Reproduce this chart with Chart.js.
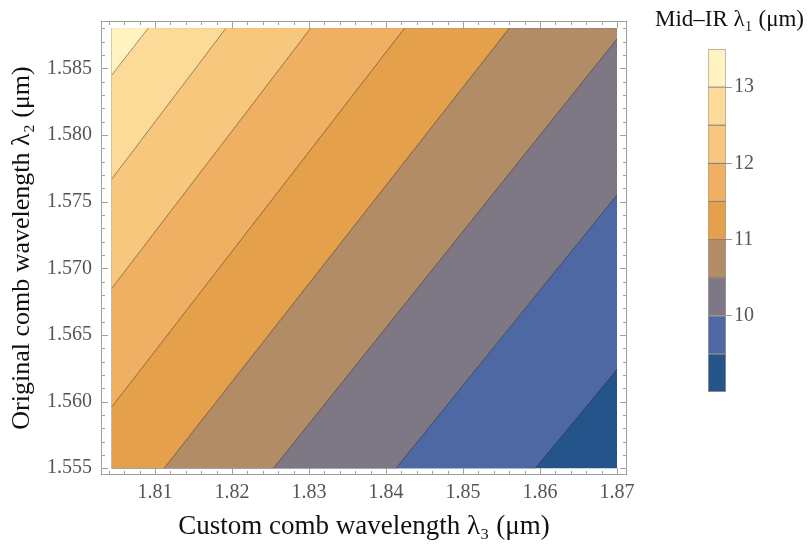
<!DOCTYPE html>
<html><head><meta charset="utf-8">
<script src="https://cdn.jsdelivr.net/npm/chart.js@4/dist/chart.umd.min.js"></script>
<style>
html,body{margin:0;padding:0;background:#fff;}
#wrap{position:relative;width:809px;height:549px;overflow:hidden;}
#main{position:absolute;left:0;top:0;}
#bar{position:absolute;left:650px;top:0;}
</style></head><body>
<div id="wrap">
<canvas id="main" width="650" height="549"></canvas>
<canvas id="bar" width="159" height="549"></canvas>
</div>
<script>
// ---- data ----
// contour levels of the mid-IR wavelength λ1 (μm)
const levels = [9.5, 10, 10.5, 11, 11.5, 12, 12.5, 13];
// each contour line: start point (λ3, λ2) and end point (λ3, λ2)
const lineStartL3 = [1.8594, 1.8413, 1.8254, 1.8112, 1.8044, 1.8044, 1.8044, 1.8044];
const lineStartL2 = [1.555, 1.555, 1.555, 1.555, 1.5596, 1.5685, 1.5767, 1.5845];
const lineEndL3 = [1.87, 1.87, 1.87, 1.8560, 1.8424, 1.8302, 1.8192, 1.8091];
const lineEndL2 = [1.5624, 1.5755, 1.5872, 1.588, 1.588, 1.588, 1.588, 1.588];
// plotted data domain
const domainL3 = [1.8044, 1.87];
const domainL2 = [1.555, 1.588];
// colour-bar band edges
const bandEdges = [9, 9.5, 10, 10.5, 11, 11.5, 12, 12.5, 13, 13.5];
// tick labels
const xTicks = [1.81, 1.82, 1.83, 1.84, 1.85, 1.86, 1.87];
const yTicks = [1.555, 1.56, 1.565, 1.57, 1.575, 1.58, 1.585];
const colorbarTicks = [10, 11, 12, 13];

// ---- styles ----
const bandColors = ['#245489','#4D68A2','#7E7885','#B28C67','#E4A04A','#EFB064','#F6C77C','#FCDA97','#FFF3C2'];
const X_AXIS = [1.80299, 1.8713];
const Y_AXIS = [1.55449, 1.58855];
const SERIF = "'Liberation Serif', 'Times New Roman', serif";

function regionAbove(i){
  const s = {x: lineStartL3[i], y: lineStartL2[i]};
  const e = {x: lineEndL3[i], y: lineEndL2[i]};
  const [x0, x1] = domainL3, [y0, y1] = domainL2;
  const pts = [s, e];
  if (e.x >= x1 && e.y < y1) pts.push({x: x1, y: y1});
  pts.push({x: x0, y: y1});
  if (s.y <= y0 && s.x > x0) pts.push({x: x0, y: y0});
  pts.push(s);
  return pts;
}

const datasets = [];
// base band (lowest level) covers the whole domain
datasets.push({
  data: [{x: domainL3[0], y: domainL2[0]}, {x: domainL3[1], y: domainL2[0]}, {x: domainL3[1], y: domainL2[1]}, {x: domainL3[0], y: domainL2[1]}, {x: domainL3[0], y: domainL2[0]}],
  showLine: true, fill: 'shape', backgroundColor: bandColors[0], borderWidth: 0, pointRadius: 0, order: 1000
});
levels.forEach((lv, i) => {
  datasets.push({
    data: regionAbove(i), showLine: true, fill: 'shape', backgroundColor: bandColors[i + 1],
    borderWidth: 0, pointRadius: 0, order: 500 - i
  });
});
levels.forEach((lv, i) => {
  datasets.push({
    data: [{x: lineStartL3[i], y: lineStartL2[i]}, {x: lineEndL3[i], y: lineEndL2[i]}],
    showLine: true, fill: false, borderColor: 'rgba(45,35,25,0.45)', borderWidth: 1, pointRadius: 0, order: 0
  });
});

const frameTicks = {
  id: 'frameTicks',
  afterDraw(chart){
    const {ctx, chartArea: a, scales: {x, y}} = chart;
    ctx.save();
    ctx.strokeStyle = '#a0a0a0';
    ctx.lineWidth = 1;
    ctx.strokeRect(a.left + 0.5, a.top + 0.5, a.right - a.left - 1, a.bottom - a.top - 1);
    ctx.beginPath();
    for (let k = Math.ceil(X_AXIS[0] * 500); k <= Math.floor(X_AXIS[1] * 500); k++) {
      const px = Math.round(x.getPixelForValue(k / 500)) + 0.5;
      const len = (k % 5 === 0) ? 7 : 4;
      ctx.moveTo(px, a.bottom); ctx.lineTo(px, a.bottom - len);
      ctx.moveTo(px, a.top); ctx.lineTo(px, a.top + len);
    }
    for (let k = Math.ceil(Y_AXIS[0] * 1000); k <= Math.floor(Y_AXIS[1] * 1000); k++) {
      const py = Math.round(y.getPixelForValue(k / 1000)) + 0.5;
      const len = (k % 5 === 0) ? 7 : 4;
      ctx.moveTo(a.left, py); ctx.lineTo(a.left + len, py);
      ctx.moveTo(a.right, py); ctx.lineTo(a.right - len, py);
    }
    ctx.stroke();
    ctx.restore();
  }
};

new Chart(document.getElementById('main'), {
  type: 'scatter',
  data: {datasets},
  options: {
    responsive: false, animation: false,
    layout: {padding: {top: 5, right: 23, bottom: 0, left: 0}},
    plugins: {legend: {display: false}, tooltip: {enabled: false}},
    scales: {
      x: {
        type: 'linear', min: X_AXIS[0], max: X_AXIS[1],
        afterBuildTicks: s => { s.ticks = xTicks.map(v => ({value: v})); },
        afterFit: s => { s.height = 74; },
        grid: {display: false, drawTicks: false}, border: {display: false},
        ticks: {font: {family: SERIF, size: 20}, color: '#555', padding: 6, maxRotation: 0, autoSkip: false, callback: v => Number(v).toFixed(2)},
        title: {display: true, text: 'Custom comb wavelength λ₃ (μm)', font: {family: SERIF, size: 27}, color: '#111', padding: {top: 0, bottom: 6}}
      },
      y: {
        type: 'linear', min: Y_AXIS[0], max: Y_AXIS[1],
        afterBuildTicks: s => { s.ticks = yTicks.map(v => ({value: v})); },
        afterFit: s => { s.width = 101; },
        grid: {display: false, drawTicks: false}, border: {display: false},
        ticks: {font: {family: SERIF, size: 20}, color: '#555', padding: 9, autoSkip: false, callback: v => Number(v).toFixed(3)},
        title: {display: true, text: 'Original comb wavelength λ₂ (μm)', font: {family: SERIF, size: 26}, color: '#111', padding: {top: 7, bottom: 0}}
      }
    }
  },
  plugins: [frameTicks]
});

new Chart(document.getElementById('bar'), {
  type: 'bar',
  data: {
    labels: ['λ₁'],
    datasets: bandColors.map((c, i) => ({
      data: [[bandEdges[i], bandEdges[i + 1]]], backgroundColor: c,
      borderColor: 'rgba(60,45,30,0.45)', borderWidth: 1, borderSkipped: false,
      grouped: false, barPercentage: 1, categoryPercentage: 1,
      xAxisID: 'x', yAxisID: 'y'
    }))
  },
  options: {
    responsive: false, animation: false,
    layout: {padding: {left: 0, right: 0, top: 0, bottom: 157}},
    plugins: {
      legend: {display: false}, tooltip: {enabled: false},
      title: {display: true, text: 'Mid–IR λ₁ (μm)', font: {family: SERIF, size: 23, weight: 'normal'}, color: '#111', padding: {top: 6, bottom: 15.4}}
    },
    scales: {
      x: {display: false},
      y: {
        position: 'right', min: 9, max: 13.5,
        afterBuildTicks: s => { s.ticks = colorbarTicks.map(v => ({value: v})); },
        afterFit: s => { s.width = 83; },
        grid: {drawOnChartArea: false, drawTicks: true, tickLength: 6, color: '#999'},
        border: {display: false},
        ticks: {font: {family: SERIF, size: 20}, color: '#555', padding: 2, autoSkip: false}
      },
      spacer: {
        type: 'linear', position: 'left', min: 0, max: 1,
        afterFit: s => { s.width = 58; },
        grid: {display: false, drawTicks: false}, border: {display: false},
        ticks: {display: false}
      }
    }
  }
});
</script>
</body></html>
